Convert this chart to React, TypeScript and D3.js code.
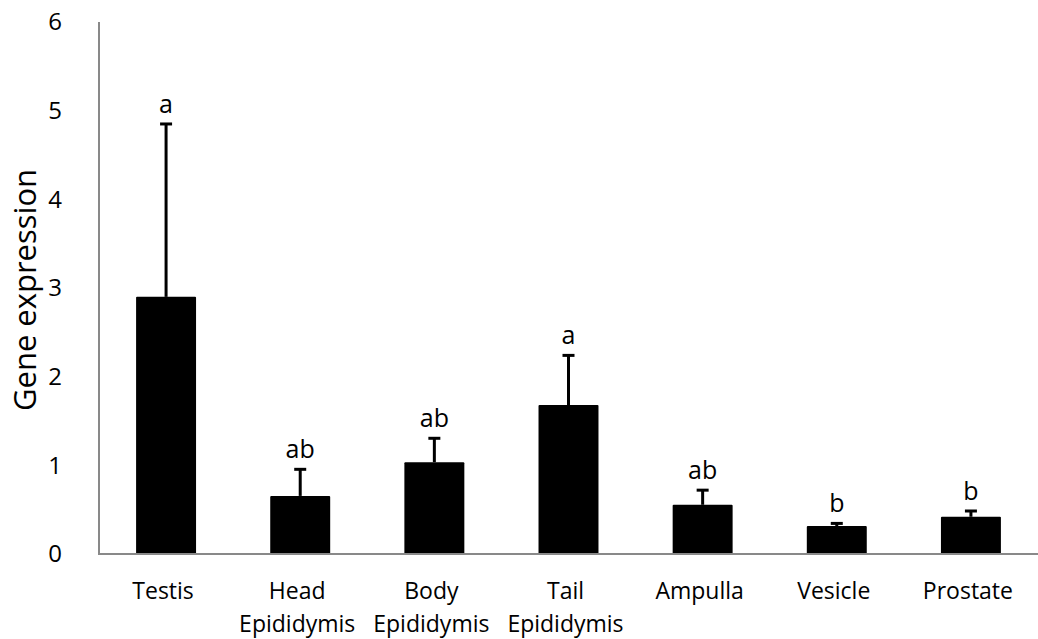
import * as d3 from "d3";

const WIDTH = 1038;
const HEIGHT = 639;
const MARGIN = { top: 22, right: 0, bottom: 85, left: 99 };
const FONT = "'Open Sans', 'Noto Sans', sans-serif";

// Data
const categories = [
  "Testis",
  "Head Epididymis",
  "Body Epididymis",
  "Tail Epididymis",
  "Ampulla",
  "Vesicle",
  "Prostate",
];
const means = [2.9, 0.655, 1.035, 1.68, 0.555, 0.315, 0.42];
const errors = [1.95, 0.3, 0.27, 0.56, 0.165, 0.03, 0.065];
const letters = ["a", "ab", "ab", "a", "ab", "b", "b"];
const yTicks = [0, 1, 2, 3, 4, 5, 6];

const AXIS_COLOR = "#898989";

export default function App() {
  const boundsWidth = WIDTH - MARGIN.left - MARGIN.right;
  const boundsHeight = HEIGHT - MARGIN.top - MARGIN.bottom;

  const xScale = d3
    .scaleBand()
    .domain(categories)
    .range([0, boundsWidth])
    .paddingInner(0.553)
    .paddingOuter(0.2765);

  const yScale = d3.scaleLinear().domain([0, 6]).range([boundsHeight, 0]);

  const bw = xScale.bandwidth();

  return (
    <svg
      width={WIDTH}
      height={HEIGHT}
      style={{ position: "absolute", left: 0, top: 0, background: "#fff" }}
    >
      <g transform={`translate(${MARGIN.left},${MARGIN.top})`}>
        {/* Bars, error bars and letters */}
        {categories.map((c, i) => {
          const x = xScale(c) ?? 0;
          const cx = x + bw / 2;
          const yTop = yScale(means[i]);
          const yErr = yScale(means[i] + errors[i]);
          return (
            <g key={c}>
              <line x1={cx} x2={cx} y1={yTop} y2={yErr} stroke="#000" strokeWidth={3} />
              <line x1={cx - 6} x2={cx + 6} y1={yErr} y2={yErr} stroke="#000" strokeWidth={3} />
              <rect x={x} y={yTop} width={bw} height={boundsHeight - yTop} fill="#000" rx={1} />
              <text
                x={cx}
                y={yErr - 11}
                textAnchor="middle"
                fontFamily={FONT}
                fontSize={25}
                fill="#000"
              >
                {letters[i]}
              </text>
            </g>
          );
        })}

        {/* Y axis */}
        <line x1={0} x2={0} y1={0} y2={boundsHeight} stroke={AXIS_COLOR} strokeWidth={2} />
        {yTicks.map((t) => (
          <text
            key={t}
            x={-37}
            y={yScale(t)}
            dy="0.35em"
            textAnchor="end"
            fontFamily={FONT}
            fontSize={24}
            fill="#000"
          >
            {t}
          </text>
        ))}

        {/* X axis */}
        <line
          x1={-1}
          x2={boundsWidth}
          y1={boundsHeight}
          y2={boundsHeight}
          stroke={AXIS_COLOR}
          strokeWidth={2}
        />
        {categories.map((c) => {
          const cx = (xScale(c) ?? 0) + bw / 2;
          const lines = c.split(" ");
          return (
            <text
              key={c}
              x={cx}
              y={boundsHeight + 45}
              textAnchor="middle"
              fontFamily={FONT}
              fontSize={23}
              fill="#000"
            >
              {lines.map((l, j) => (
                <tspan key={l} x={cx - 3} dy={j === 0 ? 0 : 33}>
                  {l}
                </tspan>
              ))}
            </text>
          );
        })}
      </g>

      {/* Y axis title */}
      <text
        transform={`translate(36,${290}) rotate(-90)`}
        textAnchor="middle"
        fontFamily={FONT}
        fontSize={31}
        fill="#000"
      >
        Gene expression
      </text>
    </svg>
  );
}
